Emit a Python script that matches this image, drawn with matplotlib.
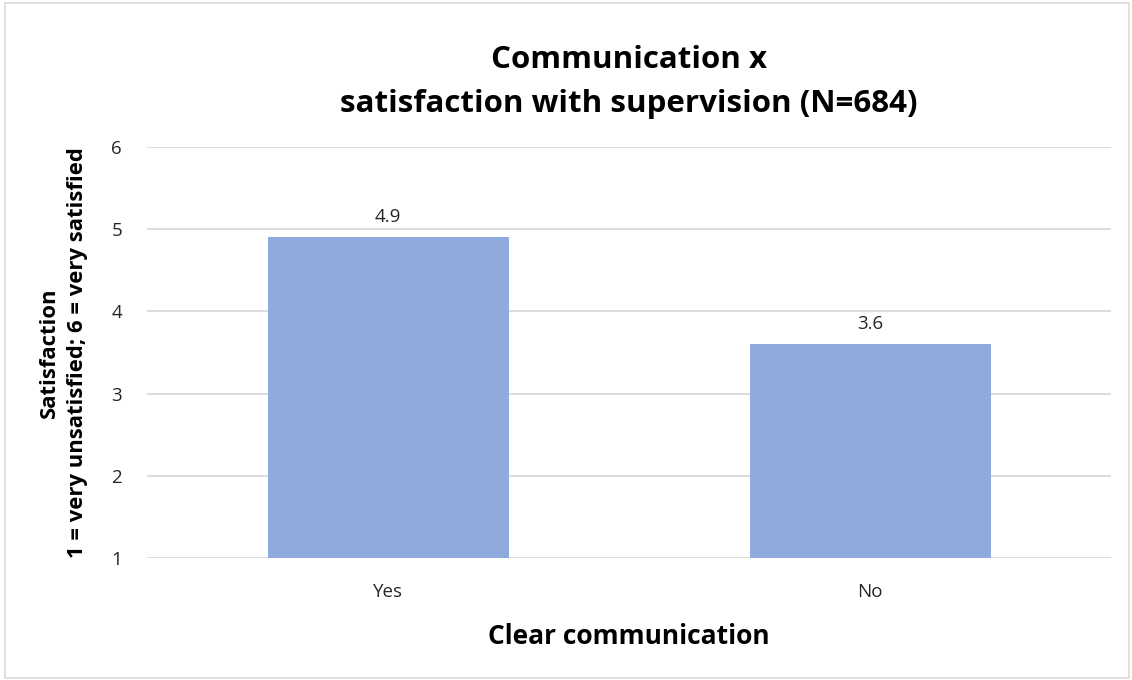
import matplotlib.pyplot as plt
from matplotlib.patches import Rectangle

plt.rcParams['font.family'] = ['Open Sans', 'DejaVu Sans']

categories = ['Yes', 'No']
means = [4.9, 3.6]
yticks = [1, 2, 3, 4, 5, 6]

fig = plt.figure(figsize=(11.32, 6.8), dpi=100)
ax = fig.add_axes([0.1299, 0.1794, 0.8516, 0.6044])

x = range(len(categories))
bars = ax.bar(x, [m - 1 for m in means], bottom=1, width=0.5, color='#8FAADC', zorder=2)
for xi, m in zip(x, means):
    ax.text(xi, m + 0.14, f'{m:.1f}', ha='center', va='bottom', fontsize=13.5, color='#262626')

ax.set_xlim(-0.5, 1.5)
ax.set_ylim(1, 6)
ax.set_yticks(yticks)
ax.set_xticks(list(x))
ax.set_xticklabels(categories)
ax.tick_params(axis='both', length=0, labelsize=13.5, colors='#262626')
ax.tick_params(axis='y', pad=18)
ax.tick_params(axis='x', pad=18)
ax.grid(axis='y', color='#D9D9D9', linewidth=1.3, zorder=0)
for s in ax.spines.values():
    s.set_visible(False)

ax.set_title('Communication x\nsatisfaction with supervision (N=684)',
             fontsize=22.5, fontweight='bold', pad=25, linespacing=1.6)
ax.set_ylabel('Satisfaction\n1 = very unsatisfied; 6 = very satisfied',
              fontsize=15.8, fontweight='bold', labelpad=17, linespacing=1.45)
ax.set_xlabel('Clear communication', fontsize=19, fontweight='bold', labelpad=16)

fig.patches.append(Rectangle((0.0045, 0.003), 0.993, 0.993, transform=fig.transFigure,
                             fill=False, edgecolor='#D9D9D9', linewidth=1.2))

fig.savefig('out.png', dpi=100, facecolor='white')
